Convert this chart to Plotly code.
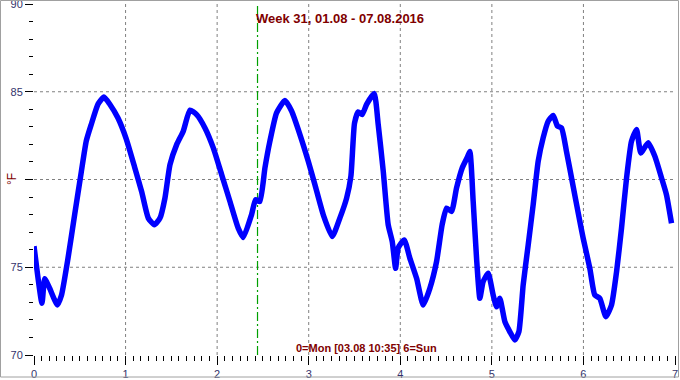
import plotly.graph_objects as go

# ---- data ----
day = [0.0, 0.087, 0.117, 0.171, 0.255, 0.30, 0.371, 0.444, 0.517, 0.571, 0.626, 0.699,
       0.764, 0.826, 0.917, 1.008, 1.099, 1.176, 1.248, 1.314, 1.376, 1.43, 1.485, 1.558,
       1.63, 1.703, 1.776, 1.867, 1.958, 2.049, 2.14, 2.23, 2.285, 2.376, 2.42, 2.467,
       2.522, 2.576, 2.649, 2.74, 2.813, 2.904, 2.995, 3.068, 3.159, 3.257, 3.34, 3.414,
       3.461, 3.50, 3.54, 3.584, 3.632, 3.715, 3.759, 3.814, 3.868, 3.912, 3.949, 3.977,
       4.043, 4.105, 4.178, 4.25, 4.323, 4.396, 4.457, 4.505, 4.56, 4.614, 4.676, 4.735,
       4.76, 4.796, 4.833, 4.869, 4.905, 4.96, 5.014, 5.051, 5.087, 5.142, 5.197, 5.251,
       5.295, 5.342, 5.397, 5.451, 5.506, 5.56, 5.615, 5.67, 5.717, 5.761, 5.815, 5.888,
       5.95, 5.997, 6.07, 6.124, 6.179, 6.245, 6.307, 6.362, 6.416, 6.471, 6.525, 6.58,
       6.627, 6.707, 6.78, 6.853, 6.907, 6.962]
temp_f = [76.2, 72.95, 74.35, 73.8, 72.85, 73.4, 75.5, 78.0, 80.45, 82.2, 83.15, 84.3,
          84.7, 84.3, 83.5, 82.3, 80.7, 79.3, 77.8, 77.42, 77.8, 78.94, 80.85, 81.99,
          82.75, 83.95, 83.7, 82.94, 81.8, 80.28, 78.75, 77.23, 76.7, 78.0, 78.85, 78.75,
          80.66, 82.18, 83.8, 84.5, 83.9, 82.56, 81.04, 79.7, 77.99, 76.75, 77.8, 78.94,
          80.2, 83.2, 83.85, 83.7, 84.28, 84.9, 83.13, 80.47, 77.42, 76.47, 74.94, 76.1,
          76.56, 75.51, 74.37, 72.85, 73.8, 75.32, 77.42, 78.37, 78.18, 79.51, 80.66, 81.3,
          81.6, 78.75, 75.51, 73.23, 74.18, 74.66, 73.42, 72.75, 73.23, 71.9, 71.32, 70.85,
          71.32, 73.99, 76.28, 78.56, 81.04, 82.37, 83.32, 83.65, 83.04, 82.94, 81.6, 79.6,
          77.9, 76.66, 74.94, 73.42, 73.23, 72.18, 72.85, 74.75, 77.23, 80.09, 82.18, 82.85,
          81.51, 82.09, 81.32, 80.09, 79.13, 77.51]

x_ticks = [0, 1, 2, 3, 4, 5, 6, 7]
y_ticks = [70, 75, 80, 85, 90]
y_tick_text = ["70", "75", "", "85", "90"]   # unit label replaces "80"
x_grid = [1, 2, 3, 4, 5, 6]
y_grid = [75, 80, 85]
marker_day = 2 + (10 + 35 / 60) / 24   # 03.08 10:35 (Wed)

title_text = "Week 31, 01.08 - 07.08.2016"
bottom_text = "0=Mon [03.08 10:35] 6=Sun"
y_label = "°F"

DARKRED = "#800000"
TICKCOL = "#33336b"
FONT = "Arial, 'Liberation Sans', sans-serif"

fig = go.Figure()
fig.add_trace(go.Scatter(x=day, y=temp_f, mode="lines",
                         line=dict(color="#0000ff", width=5.5, shape="spline", smoothing=0.5),
                         hoverinfo="skip"))

shapes = []
for g in x_grid:
    shapes.append(dict(type="line", xref="x", yref="y", x0=g, x1=g, y0=70, y1=90,
                       line=dict(color="#808080", width=1, dash="3px,3px"), layer="below"))
for g in y_grid:
    shapes.append(dict(type="line", xref="x", yref="y", x0=0, x1=7, y0=g, y1=g,
                       line=dict(color="#808080", width=1, dash="3px,3px"), layer="below"))
shapes.append(dict(type="line", xref="x", yref="y", x0=marker_day, x1=marker_day, y0=70, y1=90,
                   line=dict(color="#00a000", width=1.2, dash="9px,3px,2px,3px"), layer="below"))
# outer frame
PW, PH, L, T = 641, 351, 34, 4
def px(p):
    return (p - L) / PW
def py(p):
    return (T + PH - p) / PH
shapes.append(dict(type="rect", xref="paper", yref="paper",
                   x0=px(0.5), x1=px(678.5), y0=py(377), y1=py(0.5),
                   line=dict(color="#a0a0a0", width=1), fillcolor="rgba(0,0,0,0)"))

fig.update_layout(
    width=680, height=380,
    margin=dict(l=34, r=5, t=4, b=25, autoexpand=False),
    paper_bgcolor="white", plot_bgcolor="white",
    showlegend=False,
    font=dict(family=FONT, size=11, color=TICKCOL),
    title=dict(text=title_text, x=0.5, xref="container", xanchor="center",
               y=1 - 18 / 380, yref="container", yanchor="middle", automargin=False,
               font=dict(family=FONT, size=13, color=DARKRED, weight="bold")),
    xaxis=dict(range=[0, 7], tickvals=x_ticks, showgrid=False, zeroline=False,
               showline=False, ticks="outside", ticklen=9, tickcolor="black", tickwidth=1,
               tickfont=dict(size=11, color=TICKCOL), ticklabeloverflow="allow",
               automargin=False,
               minor=dict(dtick=1 / 12, tick0=0, ticks="outside", ticklen=5,
                          tickcolor="black", tickwidth=1, showgrid=False)),
    yaxis=dict(range=[70, 90], tickvals=y_ticks, ticktext=y_tick_text, showgrid=False,
               zeroline=False, showline=False, ticks="outside", ticklen=8,
               tickcolor="black", tickwidth=1, ticklabeloverflow="allow", automargin=False,
               tickfont=dict(size=11, color=TICKCOL),
               minor=dict(dtick=1, tick0=70, ticks="outside", ticklen=4,
                          tickcolor="black", tickwidth=1, showgrid=False)),
    shapes=shapes,
    annotations=[
        dict(text=bottom_text, xref="paper", yref="paper", x=px(366.5), y=py(348),
             xanchor="center", yanchor="middle", showarrow=False,
             font=dict(family=FONT, size=11, color=DARKRED, weight="bold")),
        dict(text=y_label, xref="paper", yref="paper", x=px(12), y=py(179),
             xanchor="center", yanchor="middle", showarrow=False, textangle=-90,
             font=dict(family=FONT, size=12, color=DARKRED)),
    ],
)

fig.write_html("out.html")
